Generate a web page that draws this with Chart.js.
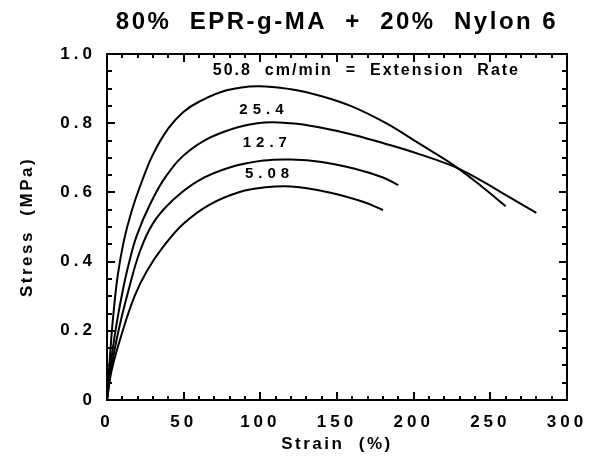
<!DOCTYPE html>
<html>
<head>
<meta charset="utf-8">
<title>80% EPR-g-MA + 20% Nylon 6</title>
<script src="https://cdn.jsdelivr.net/npm/chart.js@4.4.0/dist/chart.umd.min.js"></script>
<style>
  html, body { margin: 0; padding: 0; background: #fff; }
  #wrap { width: 600px; height: 459px; }
</style>
</head>
<body>
<div id="wrap"><canvas id="chart" width="600" height="459"></canvas></div>
<script>
// ---- data ----
const strain508 = [0, 2, 4, 7, 11, 16, 22.6, 30, 40, 50, 60, 78, 98, 120, 140, 160, 182, 204, 226, 245, 260];
const stress508 = [0, 0.13, 0.24, 0.36, 0.46, 0.545, 0.63, 0.71, 0.785, 0.833, 0.862, 0.895, 0.907, 0.898, 0.878, 0.848, 0.80, 0.74, 0.679, 0.615, 0.56];

const strain254 = [0, 2, 5.5, 10, 14, 19.4, 28, 39, 54, 75, 98, 120, 140, 161, 182, 204, 226, 245, 261, 280];
const stress254 = [0, 0.09, 0.2, 0.31, 0.39, 0.475, 0.565, 0.65, 0.722, 0.773, 0.80, 0.80, 0.787, 0.766, 0.74, 0.71, 0.675, 0.632, 0.59, 0.541];

const strain127 = [0, 2, 7, 13.9, 21.5, 30.2, 43, 60, 80, 102, 120, 140, 161, 180, 190];
const stress127 = [0, 0.07, 0.19, 0.315, 0.43, 0.512, 0.578, 0.635, 0.672, 0.692, 0.695, 0.688, 0.669, 0.643, 0.621];

const strain508b = [0, 3, 10.6, 18, 26, 36.7, 50, 67, 87, 102, 120, 145, 167, 180];
const stress508b = [0, 0.085, 0.205, 0.3, 0.373, 0.443, 0.51, 0.565, 0.602, 0.614, 0.617, 0.6, 0.573, 0.549];

// curve labels: [text, strain, stress, font size, letter spacing]
const curveLabels = [
  ['50.8  cm/min  =  Extension  Rate', 69, 0.951, 16, '2px'],
  ['25.4', 86.3, 0.838, 15, '5px'],
  ['12.7', 88.5, 0.742, 15, '5px'],
  ['5.08', 90, 0.653, 15, '5px']
];

const xMax = 300, xStep = 50, xMinor = 10;
const yMax = 1.0, yStep = 0.2, yMinor = 0.05;

function toPoints(xs, ys) {
  return xs.map((x, i) => ({ x: x, y: ys[i] }));
}

function curve(label, xs, ys) {
  return {
    label: label,
    data: toPoints(xs, ys),
    borderColor: '#000',
    borderWidth: 2,
    pointRadius: 0,
    fill: false,
    tension: 0.4
  };
}

/* ===========================================================
   PLUGIN: letter spacing, labels, framed axes with inner ticks
=========================================================== */
const plotDecor = {
  id: 'plotDecor',
  beforeDraw(chart) {
    chart.ctx.letterSpacing = '2.5px';
  },
  afterDatasetsDraw(chart) {
    const ctx = chart.ctx;
    const xs = chart.scales.x, ys = chart.scales.y;
    ctx.save();
    ctx.fillStyle = '#000';
    ctx.textAlign = 'left';
    ctx.textBaseline = 'middle';
    curveLabels.forEach(l => {
      ctx.font = 'bold ' + l[3] + 'px "Liberation Sans", Arial, sans-serif';
      ctx.letterSpacing = l[4];
      ctx.fillText(l[0], xs.getPixelForValue(l[1]), ys.getPixelForValue(l[2]));
    });
    ctx.restore();
    // tick labels are drawn next (ticks.z = 1), spaced out
    ctx.letterSpacing = '4px';
  },
  afterDraw(chart) {
    const ctx = chart.ctx;
    const { left, right, top, bottom } = chart.chartArea;
    const xs = chart.scales.x, ys = chart.scales.y;
    ctx.save();
    ctx.strokeStyle = '#000';
    ctx.lineWidth = 2;
    ctx.strokeRect(left, top, right - left, bottom - top);
    ctx.beginPath();
    const nx = Math.round(xMax / xMinor);
    for (let i = 0; i <= nx; i++) {
      const v = i * xMinor;
      const px = Math.round(xs.getPixelForValue(v));
      const len = (v % xStep === 0) ? 8 : 4;
      ctx.moveTo(px, bottom); ctx.lineTo(px, bottom - len);
      ctx.moveTo(px, top); ctx.lineTo(px, top + len);
    }
    const ny = Math.round(yMax / yMinor);
    const per = Math.round(yStep / yMinor);
    for (let i = 0; i <= ny; i++) {
      const py = Math.round(ys.getPixelForValue(i * yMinor));
      const len = (i % per === 0) ? 8 : 5;
      ctx.moveTo(left, py); ctx.lineTo(left + len, py);
      ctx.moveTo(right, py); ctx.lineTo(right - len, py);
    }
    ctx.stroke();
    ctx.restore();
    ctx.letterSpacing = '0px';
  }
};

Chart.defaults.font.family = '"Liberation Sans", Arial, sans-serif';
Chart.defaults.font.weight = 'bold';
Chart.defaults.color = '#000';

new Chart(document.getElementById('chart').getContext('2d'), {
  type: 'line',
  data: {
    datasets: [
      curve('50.8', strain508, stress508),
      curve('25.4', strain254, stress254),
      curve('12.7', strain127, stress127),
      curve('5.08', strain508b, stress508b)
    ]
  },
  options: {
    responsive: false,
    devicePixelRatio: 1,
    animation: false,
    layout: { padding: { left: 0, right: 33, top: 0, bottom: 0 } },
    plugins: {
      legend: { display: false },
      tooltip: { enabled: false },
      title: {
        display: true,
        fullSize: false,
        text: '80%  EPR-g-MA  +  20%  Nylon 6',
        font: { size: 24, weight: 'bold' },
        padding: { top: 8, bottom: 17.2 }
      }
    },
    scales: {
      x: {
        type: 'linear',
        min: 0,
        max: xMax,
        grid: { display: false, drawTicks: false, tickLength: 0 },
        border: { display: false },
        ticks: { stepSize: xStep, font: { size: 17 }, padding: 12, z: 1, maxRotation: 0 },
        title: { display: true, text: 'Strain  (%)', font: { size: 17 }, padding: { top: 0, bottom: 4 } },
        afterFit: s => { s.height = 59; }
      },
      y: {
        type: 'linear',
        min: 0,
        max: yMax,
        grid: { display: false, drawTicks: false, tickLength: 0 },
        border: { display: false },
        ticks: {
          stepSize: yStep,
          font: { size: 17 },
          padding: 11,
          z: 1,
          callback: v => (v === 0 ? '0' : v.toFixed(1))
        },
        title: { display: true, text: 'Stress  (MPa)', font: { size: 17 }, padding: { top: 17, bottom: 0 } },
        afterFit: s => { s.width = 107; }
      }
    }
  },
  plugins: [plotDecor]
});
</script>
</body>
</html>
